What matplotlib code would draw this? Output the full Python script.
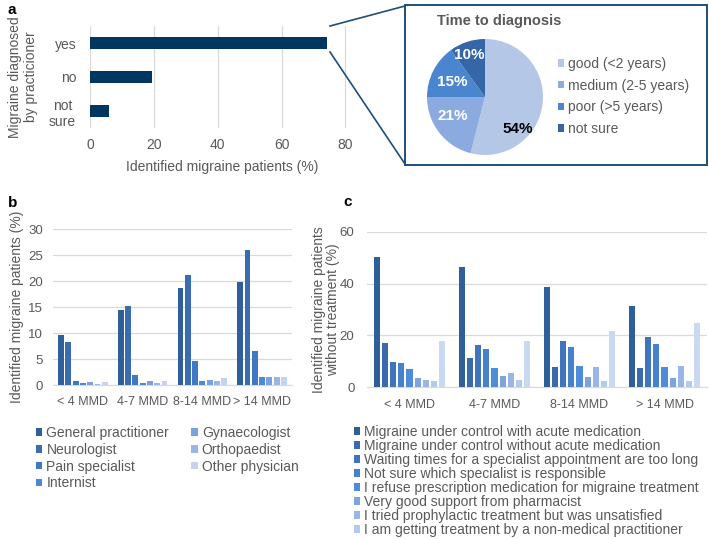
import matplotlib
matplotlib.use("Agg")
import matplotlib.pyplot as plt
import numpy as np
from matplotlib.patches import Rectangle
from matplotlib.lines import Line2D

plt.rcParams['font.family'] = ['Liberation Sans', 'DejaVu Sans']

# ---------------- data ----------------
diag_cats = ["yes", "no", "not\nsure"]
diag_vals = [74.3, 19.5, 6.0]

pie_labels = ["good (<2 years)", "medium (2-5 years)", "poor (>5 years)", "not sure"]
pie_vals = [54, 21, 15, 10]

mmd_cats = ["< 4 MMD", "4-7 MMD", "8-14 MMD", "> 14 MMD"]

phys_labels = ["General practitioner", "Neurologist", "Pain specialist", "Internist",
               "Gynaecologist", "Orthopaedist", "Other physician"]
gp = [9.6, 14.5, 18.7, 19.8]
neuro = [8.2, 15.1, 21.2, 26.0]
pain = [0.8, 2.0, 4.6, 6.5]
internist = [0.4, 0.4, 0.85, 1.45]
gyn = [0.65, 0.8, 1.0, 1.5]
ortho = [0.25, 0.45, 0.85, 1.6]
other_phys = [0.5, 0.7, 1.3, 1.6]
phys_vals = [gp, neuro, pain, internist, gyn, ortho, other_phys]

reason_labels = ["Migraine under control with acute medication",
                 "Migraine under control without acute medication",
                 "Waiting times for a specialist appointment are too long",
                 "Not sure which specialist is responsible",
                 "I refuse prescription medication for migraine treatment",
                 "Very good support from pharmacist",
                 "I tried prophylactic treatment but was unsatisfied",
                 "I am getting treatment by a non-medical practitioner"]
r_acute = [50.5, 46.5, 38.9, 31.5]
r_noacute = [17.2, 11.3, 7.8, 7.3]
r_waiting = [9.7, 16.3, 17.9, 19.2]
r_notsure = [9.1, 14.6, 15.6, 16.8]
r_refuse = [6.8, 7.4, 8.1, 7.9]
r_pharm = [3.5, 4.1, 3.8, 3.5]
r_proph = [2.8, 5.3, 7.8, 8.1]
r_nonmed = [2.3, 2.6, 2.4, 2.2]
r_other = [17.8, 17.8, 21.8, 24.9]
reason_vals = [r_acute, r_noacute, r_waiting, r_notsure, r_refuse, r_pharm, r_proph, r_nonmed, r_other]

# ---------------- style ----------------
W, H = 709, 539
GRAY = "#595959"
GRID = "#d9d9d9"
NAVY = "#003660"
BOX = "#1f4e79"
phys_colors = ["#2f5f99", "#3a6db0", "#4178c4", "#4a8ad8", "#7aa2e0", "#98b6e8", "#c4d4f0"]
reason_colors = ["#2f5f99", "#3a6aab", "#3f75bd", "#4682cc", "#4d8cdb", "#7ea4de",
                 "#98b6e6", "#b3c9ee", "#c9d9f2"]
pie_colors = ["#b4c7e7", "#8aaae0", "#4a86d0", "#3466a8"]

fig = plt.figure(figsize=(W / 100, H / 100), dpi=100)


def px_axes(left, top, right, bottom):
    return fig.add_axes([left / W, 1 - bottom / H, (right - left) / W, (bottom - top) / H])


def fx(x):
    return x / W


def fy(y):
    return 1 - y / H


# ---------------- panel a : bars ----------------
axa = px_axes(90, 26, 355, 128)
ypos = np.arange(len(diag_cats))
axa.barh(ypos, diag_vals, height=0.36, color=NAVY, zorder=3)
axa.set_ylim(len(diag_cats) - 0.5, -0.5)
axa.set_xlim(0, 83)
axa.set_xticks([0, 20, 40, 60, 80])
axa.set_yticks(ypos)
axa.set_yticklabels(diag_cats, multialignment="center")
axa.grid(axis="x", color=GRID, lw=0.9, zorder=0)
for s in axa.spines.values():
    s.set_visible(False)
axa.tick_params(length=0, colors=GRAY, labelsize=10, pad=7)
axa.tick_params(axis="y", pad=10)
axa.set_xlabel("Identified migraine patients (%)", color=GRAY, fontsize=10, labelpad=6)
axa.set_ylabel("Migraine diagnosed\nby practicioner", color=GRAY, fontsize=10, labelpad=8)
fig.text(fx(8), fy(10), "a", fontsize=11, fontweight="bold", va="center", ha="left")

# ---------------- panel a : pie box ----------------
fig.patches.append(Rectangle((fx(405), fy(165)), fx(707) - fx(405), fy(5) - fy(165),
                             transform=fig.transFigure, fill=False, edgecolor=BOX, lw=1.4))
fig.lines.append(Line2D([fx(330), fx(405)], [fy(26), fy(6)], transform=fig.transFigure,
                        color=BOX, lw=1.2))
fig.lines.append(Line2D([fx(330), fx(405)], [fy(52), fy(164)], transform=fig.transFigure,
                        color=BOX, lw=1.2))

axp = px_axes(427, 39, 543, 155)
wedges, texts, autotexts = axp.pie(pie_vals, colors=pie_colors, startangle=90, counterclock=False,
                                   autopct="%d%%", pctdistance=0.65,
                                   wedgeprops=dict(edgecolor="none"),
                                   textprops=dict(fontsize=11, fontweight="bold", color="white"))
axp.set_xlim(-1, 1)
axp.set_ylim(-1, 1)
axp.set_aspect("equal")
label_pos = [(0.57, -0.55), (-0.55, -0.33), (-0.57, 0.26), (-0.28, 0.72)]
for t, p in zip(autotexts, label_pos):
    t.set_position(p)
autotexts[0].set_color("black")
fig.text(fx(437), fy(21), "Time to diagnosis", fontsize=10.5, fontweight="bold",
         color=GRAY, ha="left", va="center")
fig.legend(wedges, pie_labels, loc="upper left", bbox_to_anchor=(fx(558), fy(57)),
           frameon=False, fontsize=10, labelcolor=GRAY, handlelength=0.45, handleheight=0.45,
           handletextpad=0.3, labelspacing=0.55, borderpad=0, borderaxespad=0)

# ---------------- panel b ----------------
axb = px_axes(53, 229, 292, 385)
xg = np.arange(len(mmd_cats))
pitch_b = 0.122
nb = len(phys_vals)
for j, (vals, col) in enumerate(zip(phys_vals, phys_colors)):
    axb.bar(xg + (j - (nb - 1) / 2) * pitch_b, vals, width=0.098, color=col,
            label=phys_labels[j], zorder=3)
axb.set_xlim(-0.5, len(mmd_cats) - 0.5)
axb.set_ylim(0, 30)
axb.set_yticks([0, 5, 10, 15, 20, 25, 30])
axb.set_xticks(xg)
axb.set_xticklabels(mmd_cats)
axb.grid(axis="y", color=GRID, lw=0.9, zorder=0)
for k, s in axb.spines.items():
    s.set_visible(k == "bottom")
axb.spines["bottom"].set_color(GRID)
axb.tick_params(length=0, colors=GRAY, labelsize=9)
axb.tick_params(axis="x", pad=8)
axb.tick_params(axis="y", pad=7, labelsize=9.5)
axb.set_ylabel("Identified migraine patients (%)", color=GRAY, fontsize=10, labelpad=3)
fig.text(fx(8), fy(203), "b", fontsize=11, fontweight="bold", va="center", ha="left")
hb, lb = axb.get_legend_handles_labels()
fig.legend(hb, lb, ncol=2, loc="upper left", bbox_to_anchor=(fx(36), fy(426)),
           frameon=False, fontsize=10, labelcolor=GRAY, handlelength=0.45, handleheight=0.45,
           handletextpad=0.3, labelspacing=0.2, columnspacing=1.6, borderpad=0, borderaxespad=0)

# ---------------- panel c ----------------
axc = px_axes(367, 232, 707, 387)
pitch_c = 0.096
nc = len(reason_vals)
for j, (vals, col) in enumerate(zip(reason_vals, reason_colors)):
    lab = reason_labels[j] if j < len(reason_labels) else "_nolegend_"
    axc.bar(xg + (j - (nc - 1) / 2) * pitch_c, vals, width=0.074, color=col, label=lab, zorder=3)
axc.set_xlim(-0.5, len(mmd_cats) - 0.5)
axc.set_ylim(0, 60)
axc.set_yticks([0, 20, 40, 60])
axc.set_xticks(xg)
axc.set_xticklabels(mmd_cats)
axc.grid(axis="y", color=GRID, lw=0.9, zorder=0)
for k, s in axc.spines.items():
    s.set_visible(k == "bottom")
axc.spines["bottom"].set_color(GRID)
axc.tick_params(length=0, colors=GRAY, labelsize=9)
axc.tick_params(axis="x", pad=9)
axc.tick_params(axis="y", pad=9, labelsize=9.5)
axc.set_ylabel("Identified migraine patients\nwithout treatment (%)", color=GRAY, fontsize=10,
               labelpad=0, linespacing=1.0)
fig.text(fx(343), fy(202), "c", fontsize=11, fontweight="bold", va="center", ha="left")
hc, lc = axc.get_legend_handles_labels()
fig.legend(hc, lc, loc="upper left", bbox_to_anchor=(fx(354), fy(425)),
           frameon=False, fontsize=10, labelcolor=GRAY, handlelength=0.45, handleheight=0.45,
           handletextpad=0.3, labelspacing=0.0, borderpad=0, borderaxespad=0)

fig.savefig("out.png", dpi=100)
